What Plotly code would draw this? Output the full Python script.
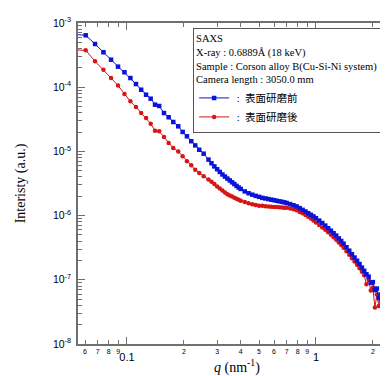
import plotly.graph_objects as go

# ---- data ----
q_nm = [0.0532, 0.0605, 0.0678, 0.0751, 0.0824, 0.0897, 0.0970, 0.1043, 0.1116, 0.1189,
        0.1262, 0.1335, 0.1408, 0.1481, 0.1570, 0.1662, 0.1758, 0.1868, 0.1971, 0.2077,
        0.2189, 0.2298, 0.2413, 0.2546,
        0.27, 0.28, 0.29, 0.30, 0.31, 0.32, 0.33, 0.34, 0.35, 0.36, 0.37, 0.38, 0.39, 0.40,
        0.42, 0.44, 0.46, 0.48, 0.50, 0.52, 0.54, 0.56, 0.58, 0.60, 0.62, 0.64, 0.66, 0.68, 0.70,
        0.73, 0.76, 0.79, 0.82, 0.85, 0.88, 0.91, 0.94, 0.97, 1.00,
        1.04, 1.08, 1.12, 1.16, 1.20, 1.24, 1.28, 1.32, 1.36, 1.40,
        1.45, 1.50, 1.55, 1.60, 1.65, 1.70, 1.75, 1.80, 1.85, 1.90, 1.95, 2.00, 2.05, 2.10,
        2.15, 2.20, 2.25, 2.30, 2.35, 2.40, 2.45, 2.50, 2.55, 2.60, 2.65, 2.70]

intensity_before = [6.62e-4, 6.43e-4, 4.71e-4, 3.50e-4, 2.68e-4, 2.09e-4, 1.71e-4, 1.39e-4, 1.12e-4, 9.14e-5,
                    7.64e-5, 6.62e-5, 5.34e-5, 5.10e-5, 3.96e-5, 3.40e-5, 2.87e-5, 2.46e-5, 2.01e-5, 1.72e-5,
                    1.44e-5, 1.24e-5, 1.06e-5, 9.21e-6,
                    7.45e-6, 6.55e-6, 5.84e-6, 5.28e-6, 4.79e-6, 4.37e-6, 4.05e-6, 3.77e-6, 3.53e-6, 3.30e-6,
                    3.10e-6, 2.90e-6, 2.74e-6, 2.60e-6,
                    2.38e-6, 2.23e-6, 2.12e-6, 2.03e-6, 1.96e-6, 1.89e-6, 1.85e-6, 1.81e-6, 1.77e-6, 1.74e-6,
                    1.70e-6, 1.67e-6, 1.64e-6, 1.61e-6, 1.57e-6,
                    1.51e-6, 1.45e-6, 1.39e-6, 1.31e-6, 1.23e-6, 1.16e-6, 1.09e-6, 1.03e-6, 9.72e-7, 9.11e-7,
                    8.36e-7, 7.67e-7, 6.99e-7, 6.36e-7, 5.82e-7, 5.32e-7, 4.88e-7, 4.41e-7, 4.02e-7, 3.65e-7,
                    3.22e-7, 2.84e-7, 2.51e-7, 2.22e-7, 1.98e-7, 1.76e-7, 1.55e-7, 1.38e-7, 1.22e-7, 1.12e-7,
                    9.0e-8, 9.2e-8, 6.9e-8, 7.3e-8,
                    5.2e-8, 5.9e-8, 3.9e-8, 4.7e-8, 3.1e-8, 3.8e-8, 2.3e-8, 3.0e-8, 1.7e-8, 2.4e-8, 1.3e-8, 1.9e-8]

intensity_after = [3.80e-4, 3.76e-4, 2.53e-4, 1.87e-4, 1.39e-4, 1.06e-4, 7.84e-5, 6.03e-5, 4.92e-5, 3.96e-5,
                   3.31e-5, 2.70e-5, 2.10e-5, 2.06e-5, 1.68e-5, 1.35e-5, 1.13e-5, 1.00e-5, 8.39e-6, 7.01e-6,
                   6.07e-6, 5.19e-6, 4.61e-6, 4.09e-6,
                   3.66e-6, 3.36e-6, 3.10e-6, 2.85e-6, 2.64e-6, 2.45e-6, 2.30e-6, 2.15e-6, 2.06e-6, 1.98e-6,
                   1.90e-6, 1.83e-6, 1.76e-6, 1.71e-6,
                   1.63e-6, 1.56e-6, 1.50e-6, 1.46e-6, 1.43e-6, 1.42e-6, 1.40e-6, 1.39e-6, 1.37e-6, 1.36e-6,
                   1.36e-6, 1.35e-6, 1.34e-6, 1.33e-6, 1.32e-6,
                   1.29e-6, 1.26e-6, 1.21e-6, 1.14e-6, 1.09e-6, 1.02e-6, 9.61e-7, 9.01e-7, 8.42e-7, 7.84e-7,
                   7.14e-7, 6.55e-7, 6.01e-7, 5.51e-7, 5.04e-7, 4.61e-7, 4.20e-7, 3.82e-7, 3.48e-7, 3.16e-7,
                   2.79e-7, 2.46e-7, 2.17e-7, 1.92e-7, 1.71e-7, 1.51e-7, 1.33e-7, 1.18e-7, 8.5e-8, 1.0e-7,
                   6.8e-8, 7.6e-8, 3.7e-8, 5.9e-8,
                   3.9e-8, 4.6e-8, 2.8e-8, 3.5e-8, 2.0e-8, 2.7e-8, 1.5e-8, 1.9e-8, 1.15e-8, 1.5e-8, 1.02e-8, 1.2e-8]

assert len(q_nm) == len(intensity_before) == len(intensity_after)

series_names = [" :  表面研磨前", " :  表面研磨後"]

x_major_vals = [0.1, 1]
x_major_text = ["0.1", "1"]
x_minor_vals = [0.06, 0.07, 0.08, 0.09, 0.2, 0.3, 0.4, 0.5, 0.6, 0.7, 0.8, 0.9, 2]
x_minor_text = ["6", "7", "8", "9", "2", "3", "4", "5", "6", "7", "8", "9", "2"]

y_major_vals = [1e-8, 1e-7, 1e-6, 1e-5, 1e-4, 1e-3]
y_major_text = ["10<sup>-8</sup>", "10<sup>-7</sup>", "10<sup>-6</sup>",
                "10<sup>-5</sup>", "10<sup>-4</sup>", "10<sup>-3</sup>"]
y_minor_vals = [m * d for d in [1e-8, 1e-7, 1e-6, 1e-5, 1e-4] for m in [2, 3, 4, 5, 6, 7, 8, 9]]

legend_title = ("SAXS<br>X-ray : 0.6889Å (18 keV)<br>"
                "Sample : Corson alloy B(Cu-Si-Ni system)<br>Camera length : 3050.0 mm")

BLUE = "#0a14d8"
RED = "#d81414"
AXC = "#707070"
xrange = [-1.259, 0.4235]
yrange = [-8, -3]

fig = go.Figure()
fig.add_trace(go.Scatter(x=q_nm, y=intensity_after, mode="lines+markers", name=series_names[1],
                         line=dict(color=RED, width=1), legendrank=2,
                         marker=dict(symbol="circle", size=4.5, color=RED)))
fig.add_trace(go.Scatter(x=q_nm, y=intensity_before, mode="lines+markers", name=series_names[0],
                         line=dict(color=BLUE, width=1), legendrank=1,
                         marker=dict(symbol="square", size=4.5, color=BLUE)))
# invisible anchors so that the helper tick axes are drawn
fig.add_trace(go.Scatter(x=[0.1], y=[1e-5], xaxis="x2", yaxis="y2", mode="markers",
                         marker=dict(opacity=0), showlegend=False, hoverinfo="skip"))
fig.add_trace(go.Scatter(x=[0.1], y=[1e-5], xaxis="x", yaxis="y3", mode="markers",
                         marker=dict(opacity=0), showlegend=False, hoverinfo="skip"))

fig.update_layout(
    width=388, height=376,
    margin=dict(l=70, r=0, t=15, b=40),
    paper_bgcolor="white", plot_bgcolor="white",
    showlegend=True,
    legend=dict(x=0.362, y=0.985, xanchor="left", yanchor="top",
                bordercolor="#555555", borderwidth=1, bgcolor="white",
                font=dict(family="Liberation Serif, 'Noto Sans CJK JP'", size=10.5, color="black"),
                title=dict(text=legend_title,
                           font=dict(family="Liberation Serif", size=10.5, color="black")),
                tracegroupgap=0),
    xaxis=dict(type="log", range=xrange, showgrid=False, zeroline=False,
               showline=True, linecolor=AXC, linewidth=1.5, mirror="ticks",
               ticks="inside", ticklen=7, tickwidth=1.2, tickcolor=AXC,
               tickvals=x_major_vals, ticktext=x_major_text,
               tickfont=dict(family="Liberation Sans", size=11, color="black"),
               ticklabelstandoff=2,
               title=dict(text="<i>q</i> (nm<sup>-1</sup>)", standoff=0,
                          font=dict(family="Liberation Serif", size=14, color="black"))),
    xaxis2=dict(type="log", range=xrange, overlaying="x", side="bottom", anchor="y",
                showgrid=False, zeroline=False, showline=True, linecolor=AXC, linewidth=1.5,
                mirror="ticks", ticks="inside", ticklen=4, tickwidth=1, tickcolor=AXC,
                tickvals=x_minor_vals, ticktext=x_minor_text,
                tickfont=dict(family="Liberation Sans", size=7, color="black")),
    yaxis=dict(type="log", range=yrange, showgrid=False, zeroline=False,
               showline=True, linecolor=AXC, linewidth=1.5,
               ticks="inside", ticklen=7, tickwidth=1.2, tickcolor=AXC,
               tickvals=y_major_vals, ticktext=y_major_text, ticklabelstandoff=3,
               tickfont=dict(family="Liberation Sans", size=10.5, color="black"),
               title=dict(text="Interisty (a.u.)", standoff=24,
                          font=dict(family="Liberation Serif", size=14, color="black"))),
    yaxis2=dict(type="log", range=yrange, overlaying="y", side="left", anchor="x",
                showgrid=False, zeroline=False, showline=False,
                ticks="inside", ticklen=4, tickwidth=1, tickcolor=AXC,
                tickvals=y_minor_vals, showticklabels=False),
    yaxis3=dict(type="log", range=yrange, overlaying="y", side="right", anchor="x",
                showgrid=False, zeroline=False, showline=False,
                ticks="inside", ticklen=4, tickcolor=AXC, tickwidth=1.2,
                tickvals=y_major_vals, showticklabels=False),
)

fig.write_html("out.html")
